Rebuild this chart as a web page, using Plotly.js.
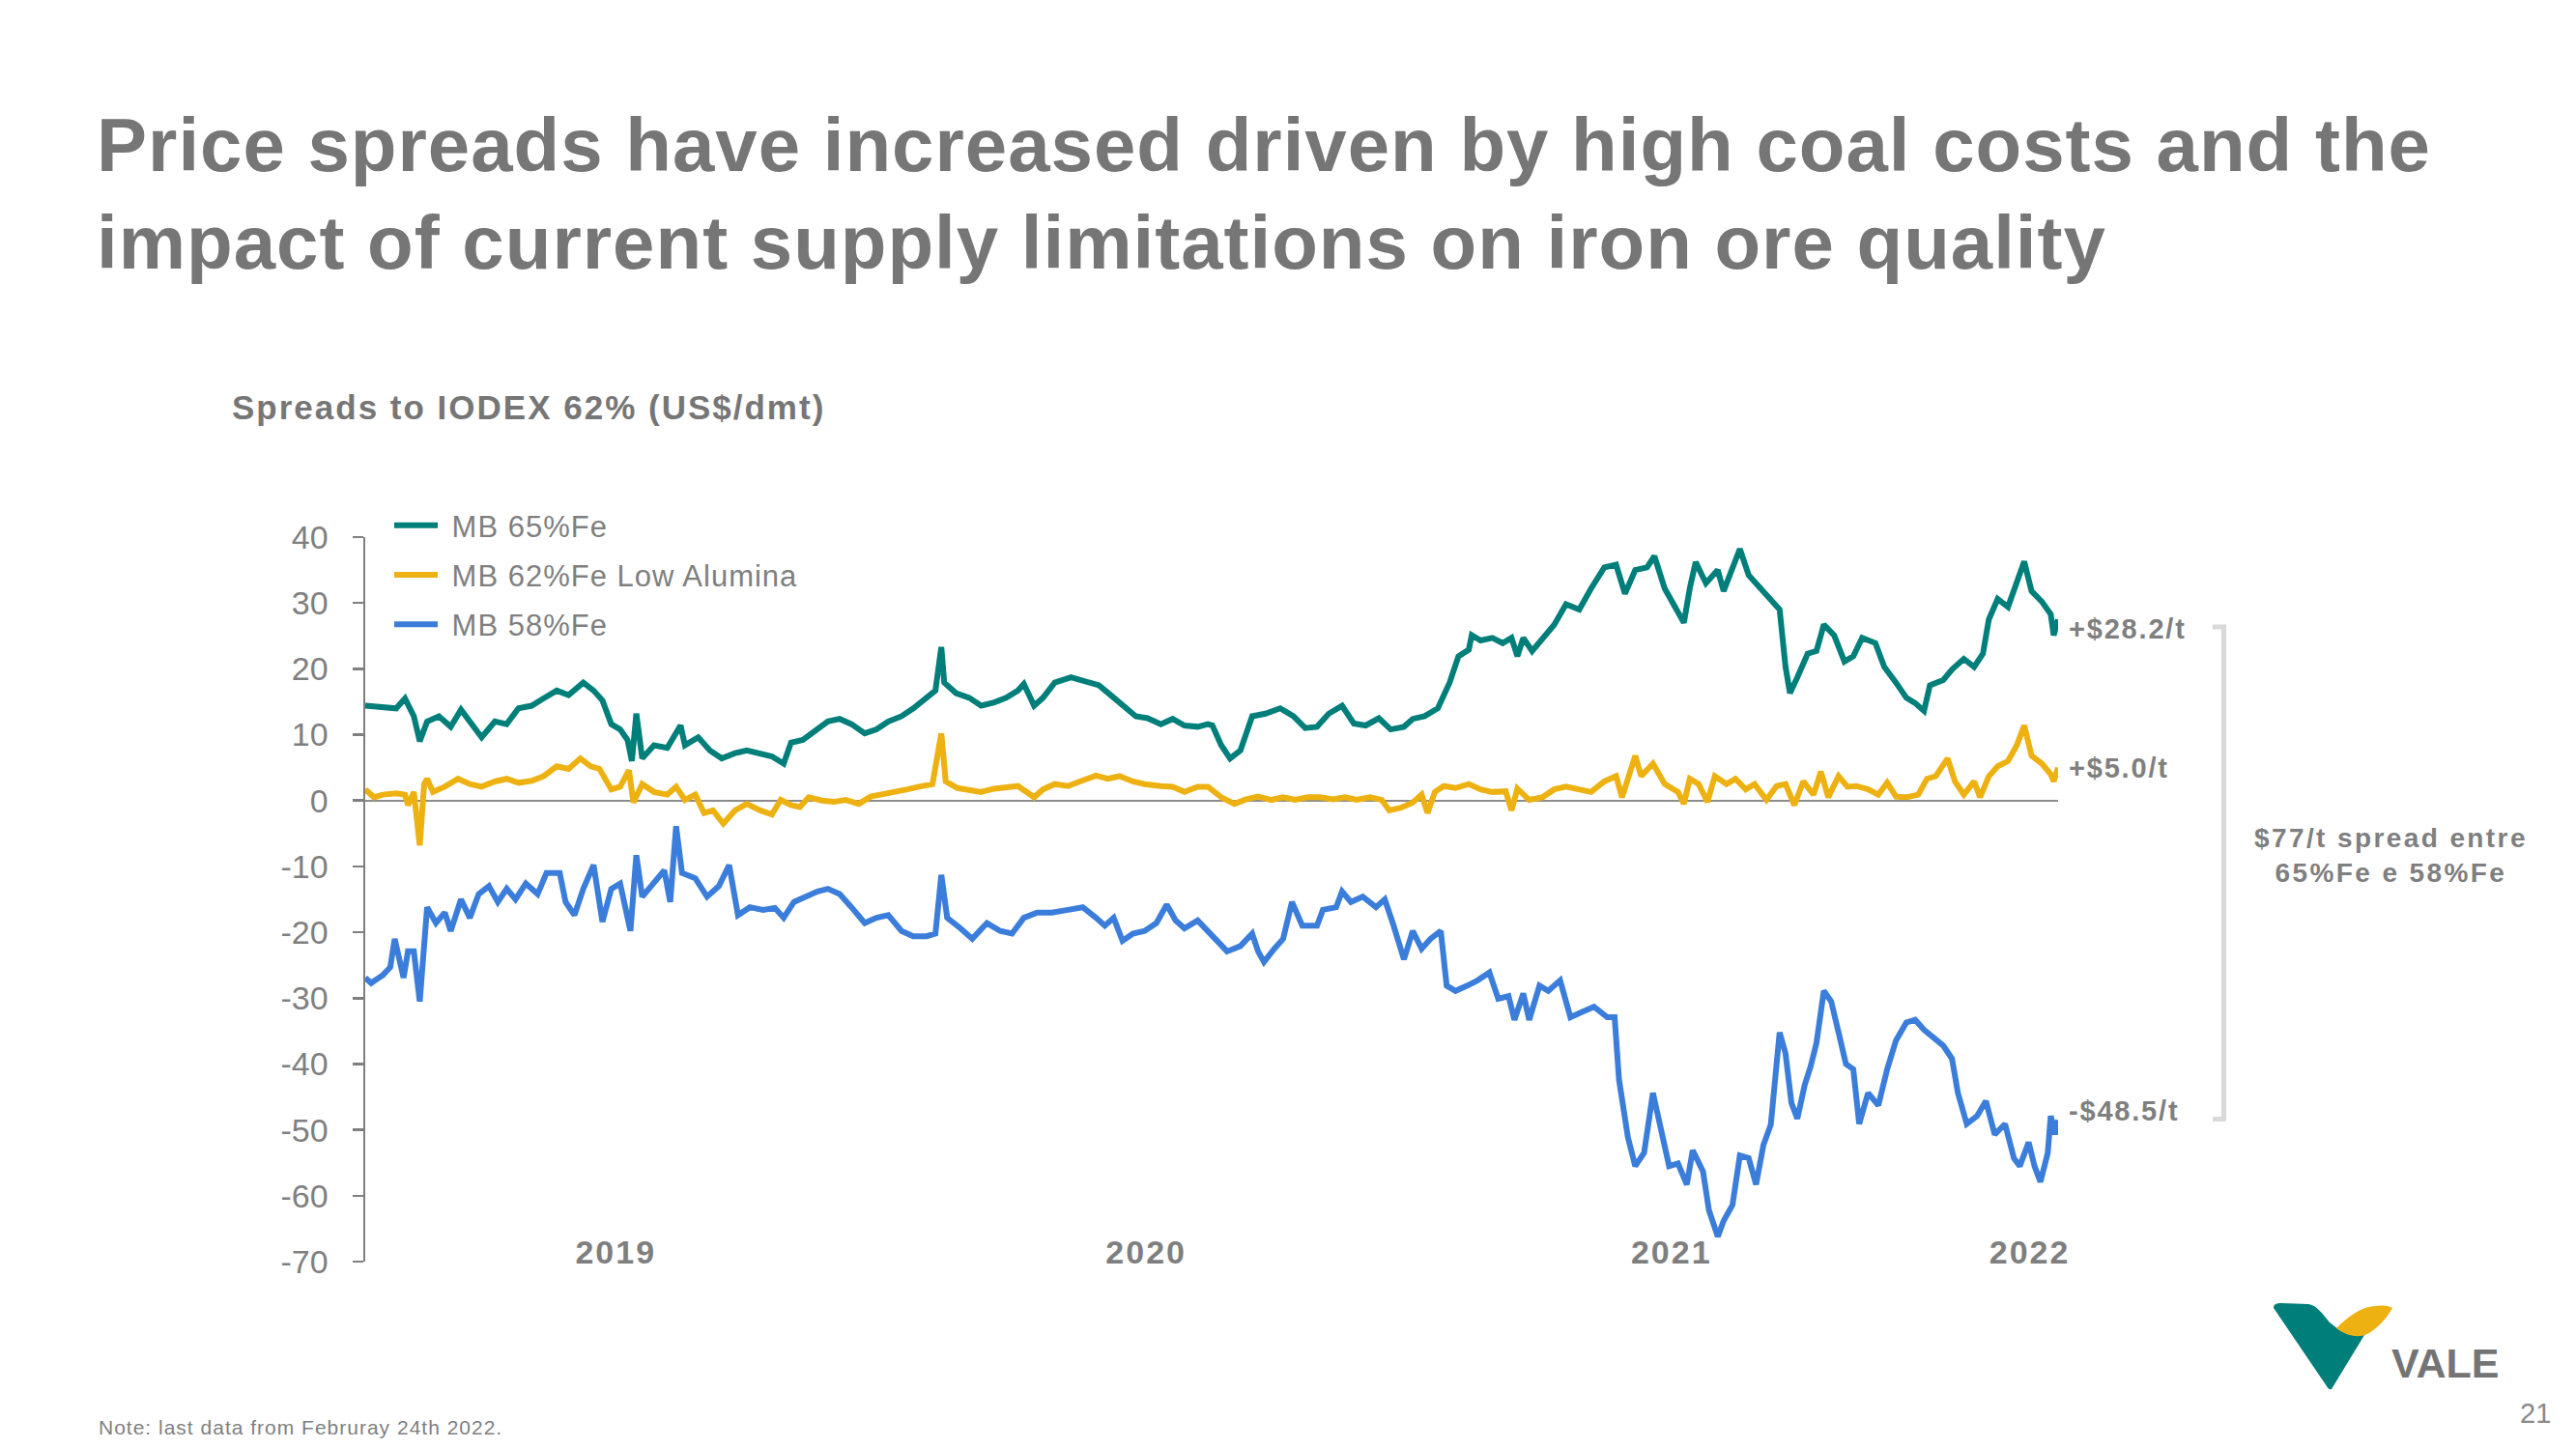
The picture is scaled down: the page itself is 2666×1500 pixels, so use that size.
<!DOCTYPE html>
<html>
<head>
<meta charset="utf-8">
<script src="https://cdn.plot.ly/plotly-3.0.1.min.js"></script>
<style>
html,body{margin:0;padding:0;background:#ffffff;overflow:hidden;}
#chart{width:2666px;height:1500px;}
#chart .gtitle{letter-spacing:1px;}
</style>
</head>
<body>
<div id="chart"></div>
<script>
// ---------------- DATA ----------------
// x values: day offsets counted from 2 Jan 2019; last point = 24 Feb 2022
const seriesNames = ['MB 65%Fe', 'MB 62%Fe Low Alumina', 'MB 58%Fe'];

const fe65Days = [0,21,27,33,37,42,50,58,65,71,79,88,96,104,113,121,130,138,148,155,161,167,173,178,181,184,188,196,205,214,217,226,234,242,251,259,268,276,284,289,297,305,314,322,330,339,347,355,364,372,381,387,391,393,401,410,418,427,435,443,447,454,460,468,479,489,498,506,514,523,531,540,548,556,565,572,575,581,587,594,602,611,621,630,638,646,654,663,671,679,688,696,705,711,719,728,736,742,749,751,757,765,772,778,782,786,792,799,807,815,824,832,841,849,855,862,870,875,882,889,895,899,903,910,918,922,928,933,939,947,954,960,964,967,972,979,985,990,997,1004,1010,1016,1025,1031,1039,1046,1052,1058,1062,1071,1077,1085,1092,1098,1102,1108,1115,1121,1126,1131,1138,1144,1146,1149];
const fe65Vals = [14.4,14.0,15.5,12.8,9.0,12.0,12.8,11.2,13.8,12.0,9.6,12.0,11.6,14.0,14.4,15.5,16.7,16.0,17.9,16.7,15.2,11.6,10.8,9.2,6.0,13.2,6.4,8.4,8.0,11.4,8.4,9.6,7.6,6.4,7.2,7.6,7.2,6.7,5.6,8.8,9.2,10.4,12.0,12.4,11.6,10.2,10.8,12.0,12.8,14.0,15.6,16.7,23.3,17.9,16.3,15.6,14.4,14.9,15.6,16.7,17.7,14.4,15.6,17.9,18.7,18.1,17.5,16.0,14.4,12.8,12.5,11.6,12.4,11.4,11.2,11.6,11.4,8.4,6.4,7.6,12.8,13.2,14.0,12.8,11.0,11.2,13.2,14.4,11.7,11.4,12.5,10.8,11.2,12.4,12.8,14.0,17.9,21.9,22.9,25.1,24.3,24.7,23.9,24.7,21.9,24.7,22.7,24.7,26.7,29.8,29.0,32.2,35.4,35.8,31.4,35.0,35.4,37.1,32.2,29.4,27.0,32.2,36.2,33.0,35.0,31.8,35.0,38.2,34.2,32.2,30.2,29.0,20.3,16.3,18.7,22.3,22.7,26.7,25.1,21.1,21.9,24.7,23.9,20.3,17.9,15.6,14.8,13.6,17.5,18.3,19.9,21.5,20.3,22.3,27.5,30.6,29.4,33.0,36.3,31.8,30.2,28.3,25.1,27.5];

const fe62Days = [0,6,12,21,27,29,33,37,40,42,46,54,63,71,79,88,96,104,113,121,130,138,146,153,159,167,173,179,182,188,196,205,211,217,224,230,236,243,251,259,268,276,282,289,295,301,310,318,326,335,343,351,360,368,376,385,391,394,402,410,418,427,435,443,454,460,468,477,485,496,504,512,521,529,540,548,556,565,572,581,590,598,606,615,623,631,640,648,657,665,673,682,690,695,703,711,717,721,726,732,740,749,757,765,774,778,782,790,799,807,815,824,832,841,849,853,862,866,874,882,891,895,899,905,911,916,924,930,937,943,951,958,964,970,976,983,988,993,1000,1006,1012,1020,1027,1033,1039,1046,1054,1060,1066,1074,1079,1085,1092,1096,1102,1108,1115,1121,1126,1131,1138,1144,1146,1149];
const fe62Vals = [1.7,0.5,0.9,1.1,0.9,-0.7,1.3,-6.8,2.5,3.3,1.3,2.1,3.3,2.5,2.1,2.9,3.3,2.7,3.0,3.7,5.2,4.8,6.4,5.2,4.8,1.7,2.1,4.6,-0.3,2.5,1.3,0.9,2.1,0.1,0.9,-1.9,-1.5,-3.5,-1.5,-0.5,-1.5,-2.1,0.1,-0.7,-1.0,0.5,0.0,-0.2,0.1,-0.5,0.6,0.9,1.3,1.7,2.1,2.5,10.2,2.9,1.9,1.7,1.3,1.8,2.1,2.2,0.5,1.7,2.5,2.2,2.9,3.8,3.3,3.7,2.9,2.5,2.2,2.1,1.3,2.1,2.1,0.5,-0.5,0.2,0.6,0.1,0.5,0.1,0.5,0.5,0.2,0.5,0.1,0.5,0.1,-1.5,-1.1,-0.3,0.9,-1.9,1.3,2.2,1.9,2.5,1.7,1.3,1.4,-1.5,1.8,0.1,0.5,1.7,2.1,1.7,1.3,2.9,3.7,0.5,6.8,3.7,5.6,2.5,1.3,-0.5,3.3,2.5,-0.2,3.7,2.5,3.3,1.7,2.5,0.1,2.2,2.5,-0.7,2.9,0.9,4.4,0.5,3.7,2.1,2.2,1.7,0.9,2.7,0.6,0.5,0.9,3.3,3.7,6.4,2.9,0.9,2.9,0.5,3.7,5.2,6.0,8.4,11.4,6.8,5.6,4.0,2.9,5.0];

const fe58Days = [0,4,12,17,20,23,26,29,33,37,40,42,48,54,58,65,71,77,84,90,96,102,109,117,123,132,136,142,148,155,161,167,173,180,184,188,194,203,207,211,215,224,232,240,247,253,261,270,278,284,291,299,307,314,322,330,339,347,355,364,372,381,387,391,395,404,412,422,431,439,447,456,466,477,487,496,502,508,514,521,529,537,544,550,556,565,572,577,585,594,602,606,610,617,623,629,636,646,650,659,663,669,677,686,692,698,705,711,717,723,730,734,740,748,755,763,769,776,780,786,790,797,803,811,818,826,834,843,848,851,857,862,868,874,880,885,891,897,901,908,912,918,922,928,933,939,944,949,954,960,964,968,972,977,981,985,990,995,1000,1005,1010,1014,1020,1027,1033,1039,1046,1052,1058,1064,1071,1077,1081,1087,1094,1100,1106,1113,1119,1123,1129,1133,1137,1142,1144,1147,1149];
const fe58Vals = [-26.9,-27.7,-26.5,-25.3,-21.0,-24.1,-26.9,-22.9,-22.9,-30.5,-21.0,-16.2,-18.6,-17.0,-19.8,-15.0,-17.8,-14.2,-13.0,-15.4,-13.4,-15.0,-12.6,-14.2,-11.0,-11.0,-15.4,-17.4,-13.4,-9.8,-18.4,-13.4,-12.6,-19.8,-8.3,-14.6,-13.0,-10.6,-15.4,-3.9,-11.0,-11.8,-14.6,-13.0,-9.8,-17.4,-16.2,-16.6,-16.3,-17.8,-15.4,-14.6,-13.8,-13.4,-14.2,-16.2,-18.6,-17.8,-17.4,-19.8,-20.6,-20.6,-20.2,-11.3,-17.8,-19.4,-21.0,-18.6,-19.8,-20.2,-17.8,-17.0,-17.0,-16.6,-16.2,-17.8,-19.0,-17.8,-21.3,-20.2,-19.8,-18.6,-15.8,-18.2,-19.4,-18.2,-19.8,-21.0,-22.9,-22.1,-20.2,-22.9,-24.5,-22.5,-21.0,-15.4,-19.0,-19.0,-16.6,-16.2,-13.8,-15.4,-14.6,-16.2,-15.0,-19.0,-24.1,-19.8,-22.5,-21.0,-19.8,-28.1,-28.9,-28.1,-27.3,-26.1,-30.1,-29.7,-33.3,-29.3,-33.3,-28.1,-28.9,-27.3,-32.9,-32.1,-31.3,-32.9,-32.9,-42.4,-51.1,-55.5,-53.5,-44.4,-50.3,-55.5,-55.1,-58.3,-53.1,-56.3,-62.2,-66.2,-63.8,-61.4,-53.9,-54.3,-58.3,-52.3,-49.2,-35.2,-38.4,-45.9,-48.3,-43.2,-40.4,-36.8,-28.9,-30.5,-35.2,-40.0,-40.8,-49.1,-44.4,-46.3,-40.8,-36.4,-33.7,-33.3,-34.8,-36.0,-37.2,-39.2,-44.4,-49.1,-47.9,-45.6,-50.7,-49.1,-54.3,-55.5,-51.9,-55.5,-57.9,-53.5,-47.9,-50.7,-48.5];

// last reported spreads (end labels)
const lastSpreadLabels = ['+$28.2/t', '+$5.0/t', '-$48.5/t'];
// x-axis year labels and the day offsets where they sit
const yearLabels = ['2019', '2020', '2021', '2022'];
const yearLabelDays = [170, 530, 886.5, 1129.7];
const yTickVals = [40, 30, 20, 10, 0, -10, -20, -30, -40, -50, -60, -70];
const yTickText = ['40', '30', '20', '10', '0', '-10', '-20', '-30', '-40', '-50', '-60', '-70'];

// ---------------- helpers ----------------
const START = Date.UTC(2019, 0, 2);
function dayToDate(d) {
  return new Date(START + d * 86400000).toISOString().replace('T', ' ').slice(0, 19);
}
const W = 2666, H = 1500;
const PL = 378, PR = 2130, PT = 556, PB = 1306;   // plot area in px
const px2x = p => (p - PL) / (PR - PL);
const py2y = p => (PB - p) / (PB - PT);

const SANS = '"Liberation Sans", Arial, sans-serif';
const GREY = '#7f7f7f';
const TITLE_GREY = '#767676';
const COLORS = ['#007F7A', '#EDB111', '#3B7DDA'];
const sp = (t, px) => '<span style="letter-spacing:' + px + 'px">' + t + '</span>';

const allDays = [fe65Days, fe62Days, fe58Days];
const allVals = [fe65Vals, fe62Vals, fe58Vals];

const traces = allDays.map((days, i) => ({
  type: 'scatter',
  mode: 'lines',
  name: sp('\u00a0' + seriesNames[i], 1),
  legendgroup: 'g' + i,
  x: days.map(dayToDate),
  y: allVals[i],
  line: {color: COLORS[i], width: 6},
  hoverinfo: 'skip'
}));

// end-of-series labels, anchored at each series' last point
const endShift = [-10, 0, 9];
const endAnnotations = allDays.map((days, i) => ({
  xref: 'x', yref: 'y',
  x: dayToDate(days[days.length - 1]),
  y: allVals[i][allVals[i].length - 1],
  xanchor: 'left', yanchor: 'middle',
  xshift: 9, yshift: endShift[i],
  showarrow: false,
  text: sp(lastSpreadLabels[i], 1.8),
  font: {family: SANS, size: 29, weight: 'bold', color: GREY}
}));

const annotations = [
  {
    xref: 'paper', yref: 'paper', x: px2x(238), y: py2y(421.5),
    xanchor: 'left', yanchor: 'middle', showarrow: false,
    text: sp('Spreads to IODEX 62% (US$/dmt)', 2),
    font: {family: SANS, size: 35, weight: 'bold', color: TITLE_GREY}
  },
  ...endAnnotations,
  {
    xref: 'paper', yref: 'paper', x: px2x(2474), y: py2y(885.5),
    xanchor: 'center', yanchor: 'middle', showarrow: false, align: 'center',
    text: sp('$77/t spread entre', 2.4) + '<br>' + sp('65%Fe e 58%Fe', 2.4),
    font: {family: SANS, size: 28, weight: 'bold', color: GREY}
  },
  {
    xref: 'paper', yref: 'paper', x: px2x(100), y: py2y(1477),
    xanchor: 'left', yanchor: 'middle', showarrow: false,
    text: sp('Note: last data from Februray 24th 2022.', 1),
    font: {family: SANS, size: 21, color: GREY}
  },
  {
    xref: 'paper', yref: 'paper', x: px2x(2473), y: py2y(1410.5),
    xanchor: 'left', yanchor: 'middle', showarrow: false,
    text: 'VALE',
    font: {family: SANS, size: 43, weight: 'bold', color: '#747474'}
  },
  {
    xref: 'paper', yref: 'paper', x: px2x(2642), y: py2y(1462.5),
    xanchor: 'right', yanchor: 'middle', showarrow: false,
    text: '21',
    font: {family: SANS, size: 29, color: '#8a8a8a'}
  }
];

// bracket between the 65%Fe and 58%Fe end labels
const shapes = [{
  type: 'path', xref: 'paper', yref: 'paper',
  path: 'M' + px2x(2290) + ',' + py2y(649) + ' L' + px2x(2301.5) + ',' + py2y(649) +
        ' L' + px2x(2301.5) + ',' + py2y(1158.5) + ' L' + px2x(2290) + ',' + py2y(1158.5),
  line: {color: '#d9d9d9', width: 5}
}];

// Vale logo (decorative)
const logoSvg = '<svg xmlns="http://www.w3.org/2000/svg" width="140" height="100" viewBox="0 0 140 100">' +
  '<path d="M8,9 C8,5 11,4 16,4 L44,5 C52,6 58,14 66,24 L75,31 C82,36 92,38 102,37 L68,93 C66,94 64,92 63,90 Z" fill="#007F7A"/>' +
  '<path d="M73,30 C85,18 98,8 113,7 C120,6 126,6 131,9 C126,18 117,30 103,37 C93,40 82,37 73,30 Z" fill="#EDB111"/>' +
  '</svg>';
const images = [{
  source: 'data:image/svg+xml;charset=utf-8,' + encodeURIComponent(logoSvg),
  xref: 'paper', yref: 'paper',
  x: px2x(2345), y: py2y(1345),
  sizex: 140 / (PR - PL), sizey: 100 / (PB - PT),
  xanchor: 'left', yanchor: 'top', sizing: 'stretch', layer: 'above'
}];

const layout = {
  width: W, height: H, autosize: false,
  paper_bgcolor: '#ffffff', plot_bgcolor: '#ffffff',
  margin: {l: PL, r: W - PR, t: PT, b: H - PB, pad: 0},
  showlegend: true,
  title: {
    text: 'Price spreads have increased driven by high coal costs and the<br>impact of current supply limitations on iron ore quality',
    xref: 'container', yref: 'container',
    x: 100 / W, xanchor: 'left',
    y: 1 - 177 / H, yanchor: 'top',
    font: {family: SANS, size: 78, weight: 'bold', color: TITLE_GREY}
  },
  xaxis: {
    type: 'date',
    range: [dayToDate(0), dayToDate(1149)],
    showgrid: false, zeroline: false, showline: false, ticks: '',
    tickmode: 'array',
    tickvals: yearLabelDays.map(dayToDate),
    ticktext: yearLabels.map(t => sp(t, 2)),
    ticklabelstandoff: -33,
    tickfont: {family: SANS, size: 34, weight: 'bold', color: GREY},
    fixedrange: true
  },
  yaxis: {
    range: [-70, 40],
    tickmode: 'array', tickvals: yTickVals, ticktext: yTickText,
    showgrid: false,
    zeroline: true, zerolinecolor: '#8c8c8c', zerolinewidth: 2,
    showline: true, linecolor: GREY, linewidth: 2.5,
    ticks: 'outside', ticklen: 11, tickwidth: 2.5, tickcolor: GREY,
    ticklabelstandoff: 18,
    tickfont: {family: SANS, size: 34, color: GREY},
    fixedrange: true
  },
  legend: {
    x: px2x(403), xanchor: 'left',
    y: py2y(517), yanchor: 'top',
    orientation: 'v',
    bgcolor: 'rgba(0,0,0,0)', borderwidth: 0,
    itemwidth: 45,
    tracegroupgap: 8,
    font: {family: SANS, size: 31, color: GREY},
    traceorder: 'grouped'
  },
  annotations: annotations,
  shapes: shapes,
  images: images
};

Plotly.newPlot('chart', traces, layout, {staticPlot: true, displayModeBar: false});
</script>
</body>
</html>
